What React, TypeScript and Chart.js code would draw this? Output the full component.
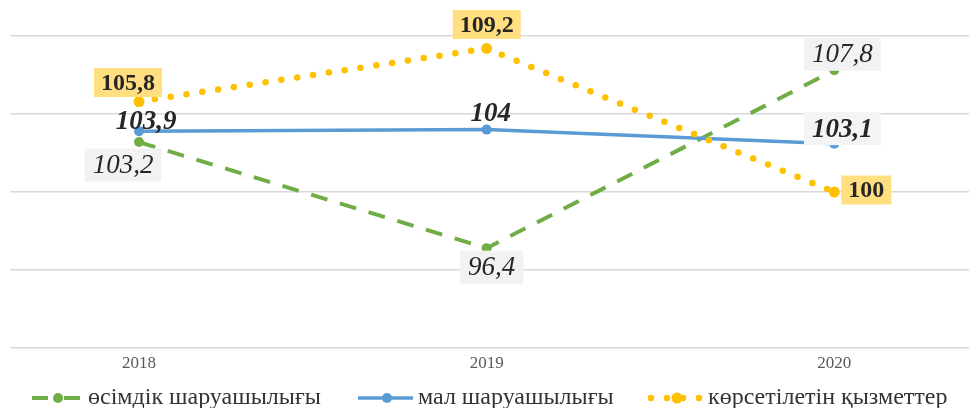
import React, { useEffect, useRef } from "react";
import { Chart, registerables } from "chart.js";

Chart.register(...registerables);

const categories = ["2018", "2019", "2020"];
const seriesNames = ["өсімдік шаруашылығы", "мал шаруашылығы", "көрсетілетін қызметтер"];
const plantValues = [103.2, 96.4, 107.8];
const livestockValues = [103.9, 104, 103.1];
const servicesValues = [105.8, 109.2, 100];
const yTicks = [90, 95, 100, 105, 110];

const GREEN = "#70ad47";
const BLUE = "#5b9bd5";
const YELLOW = "#ffc000";
const SERIF = '"Liberation Serif", "Times New Roman", serif';

// label styling (per dataset) and offsets from the point (per point)
const labelStyles = [
  { font: `italic 400 27px ${SERIF}`, bg: ["#f2f2f2", "#f2f2f2", "#f2f2f2"], h: 33, padX: 8, off: [[-16, 23], [5, 19], [8, -16]] },
  { font: `italic 700 27px ${SERIF}`, bg: [null, null, "#f3f5f5"], h: 33, padX: 8, off: [[7, -10], [4, -17], [8, -15]] },
  { font: `700 24px ${SERIF}`, bg: ["#ffdf80", "#ffdf80", "#ffdf80"], h: 29, padX: 7, off: [[-11, -19], [0, -24], [32, -2]] },
];

const legendItems = [
  { kind: "dash", x0: 32, x1: 80, dot: 58, tx: 88 },
  { kind: "solid", x0: 358, x1: 413, dot: 387, tx: 418 },
  { kind: "dot", x0: 651, x1: 699, dot: 677, tx: 708 },
];

const fmt = (v: number) => String(v).replace(".", ",");

const labelPlugin = {
  id: "valueLabels",
  afterDatasetsDraw(chart: any) {
    const ctx = chart.ctx;
    ctx.save();
    chart.data.datasets.forEach((ds: any, i: number) => {
      const meta = chart.getDatasetMeta(i);
      const st = labelStyles[i];
      meta.data.forEach((pt: any, j: number) => {
        const v = ds.data[j].y;
        const text = fmt(v);
        ctx.font = st.font;
        const w = ctx.measureText(text).width;
        const cx = pt.x + st.off[j][0];
        const cy = pt.y + st.off[j][1];
        const bg = st.bg[j];
        if (bg) {
          ctx.fillStyle = bg;
          ctx.fillRect(cx - w / 2 - st.padX, cy - st.h / 2, w + 2 * st.padX, st.h);
        }
        ctx.fillStyle = "#262626";
        ctx.textAlign = "center";
        ctx.textBaseline = "middle";
        ctx.fillText(text, cx, cy + 1);
      });
    });
    ctx.restore();
  },
};

const legendPlugin = {
  id: "customLegend",
  afterDraw(chart: any) {
    const ctx = chart.ctx;
    const y = 398;
    ctx.save();
    chart.data.datasets.forEach((ds: any, i: number) => {
      const it = legendItems[i];
      ctx.strokeStyle = ds.borderColor;
      ctx.fillStyle = ds.borderColor;
      ctx.lineWidth = ds.borderWidth;
      if (it.kind === "dash") {
        ctx.lineCap = "butt";
        ctx.beginPath();
        ctx.moveTo(it.x0, y);
        ctx.lineTo(it.x0 + 16, y);
        ctx.moveTo(it.x1 - 16, y);
        ctx.lineTo(it.x1, y);
        ctx.stroke();
      } else if (it.kind === "solid") {
        ctx.lineCap = "butt";
        ctx.beginPath();
        ctx.moveTo(it.x0, y);
        ctx.lineTo(it.x1, y);
        ctx.stroke();
      } else {
        ctx.lineCap = "round";
        ctx.setLineDash([0, 16]);
        ctx.beginPath();
        ctx.moveTo(it.x0, y);
        ctx.lineTo(it.x1 + 1, y);
        ctx.stroke();
        ctx.setLineDash([]);
      }
      ctx.beginPath();
      ctx.arc(it.dot, y, ds.pointRadius, 0, Math.PI * 2);
      ctx.fill();
      ctx.fillStyle = "#333333";
      ctx.font = `24px ${SERIF}`;
      ctx.textAlign = "left";
      ctx.textBaseline = "middle";
      ctx.fillText(ds.label, it.tx, y);
    });
    ctx.restore();
  },
};

export default function App() {
  const ref = useRef<HTMLCanvasElement | null>(null);
  useEffect(() => {
    if (!ref.current) return;
    const toXY = (vals: number[]) => categories.map((_, i) => ({ x: i, y: vals[i] }));
    const chart = new Chart(ref.current, {
      type: "line",
      data: {
        datasets: [
          {
            label: seriesNames[0],
            data: toXY(plantValues),
            borderColor: GREEN,
            backgroundColor: GREEN,
            borderWidth: 4,
            borderDash: [17, 13],
            pointRadius: 5,
            pointBackgroundColor: GREEN,
            pointBorderWidth: 0,
            tension: 0,
            order: 2,
          },
          {
            label: seriesNames[1],
            data: toXY(livestockValues),
            borderColor: BLUE,
            backgroundColor: BLUE,
            borderWidth: 3.5,
            pointRadius: 5,
            pointBackgroundColor: BLUE,
            pointBorderWidth: 0,
            tension: 0,
            order: 1,
          },
          {
            label: seriesNames[2],
            data: toXY(servicesValues),
            borderColor: YELLOW,
            backgroundColor: YELLOW,
            borderWidth: 6.5,
            borderDash: [0, 16],
            borderCapStyle: "round",
            pointRadius: 5.5,
            pointBackgroundColor: YELLOW,
            pointBorderWidth: 0,
            tension: 0,
            order: 0,
          },
        ] as any,
      },
      options: {
        responsive: false,
        maintainAspectRatio: false,
        animation: false,
        layout: { autoPadding: false, padding: { left: 10, top: 36, right: 0, bottom: 0 } },
        plugins: { legend: { display: false }, tooltip: { enabled: false } },
        scales: {
          x: {
            type: "linear",
            min: -0.3711,
            max: 2.3874,
            grid: { display: false },
            border: { display: false },
            afterFit: (s: any) => {
              s.height = 60;
              s.paddingLeft = 0;
              s.paddingRight = 0;
            },
            ticks: {
              stepSize: 1,
              includeBounds: false,
              padding: -3,
              color: "#595959",
              font: { family: SERIF, size: 17 },
              callback: (v: any) => categories[v] ?? "",
            },
          },
          y: {
            min: yTicks[0],
            max: yTicks[yTicks.length - 1],
            afterFit: (s: any) => {
              s.width = 0;
            },
            afterBuildTicks: (s: any) => {
              s.ticks = yTicks.map((v) => ({ value: v }));
            },
            grid: { color: "#d9d9d9", lineWidth: 1.5, drawTicks: false },
            border: { display: false },
            ticks: { display: false },
          },
        },
      } as any,
      plugins: [labelPlugin, legendPlugin],
    });
    return () => chart.destroy();
  }, []);
  return (
    <div style={{ position: "fixed", left: 0, top: 0, width: 969, height: 408, background: "#fff" }}>
      <canvas ref={ref} width={969} height={408} style={{ width: 969, height: 408, display: "block" }} />
    </div>
  );
}
